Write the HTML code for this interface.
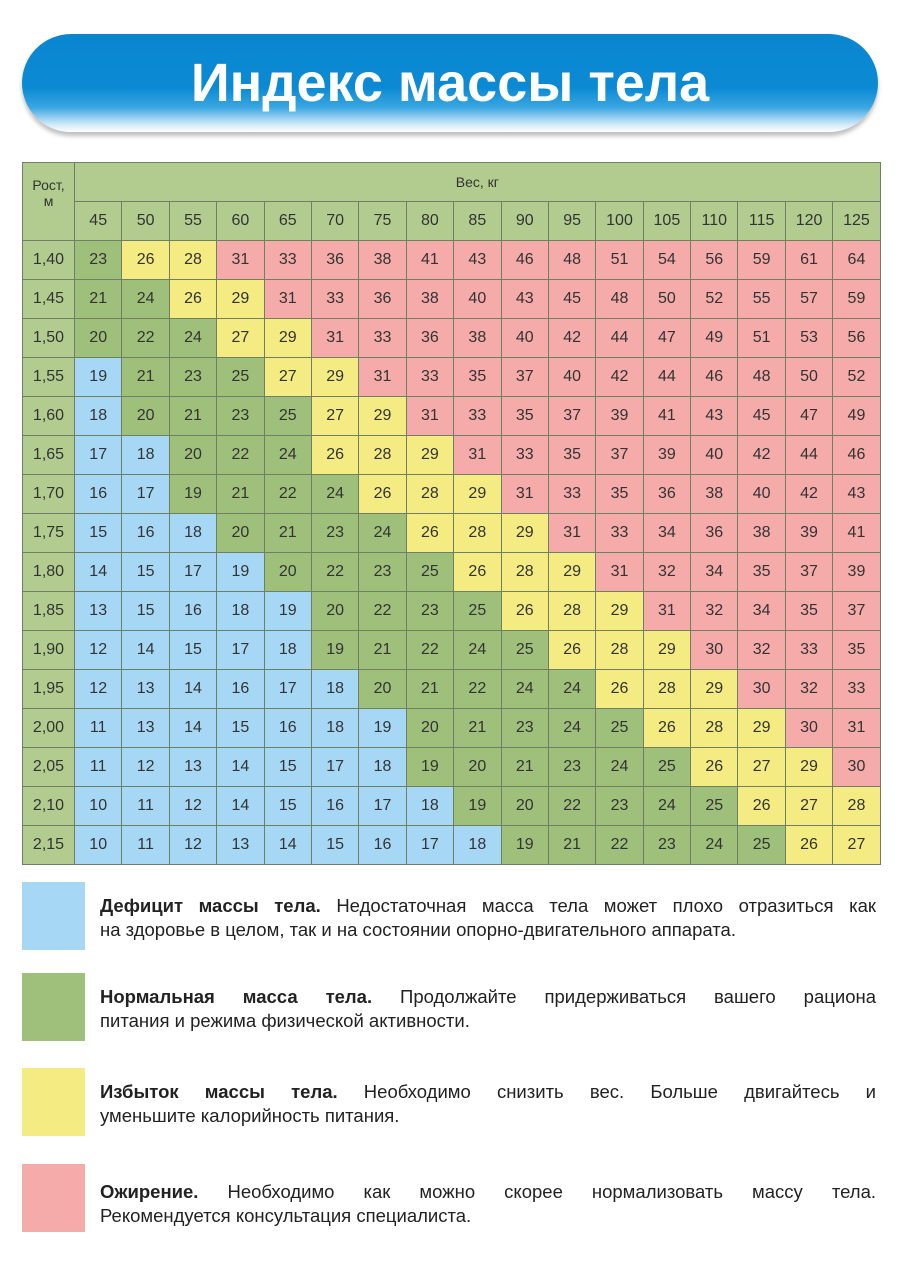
<!DOCTYPE html>
<html><head><meta charset="utf-8"><style>
body{margin:0;width:900px;height:1273px;background:#fff;position:relative;font-family:"Liberation Sans",sans-serif;overflow:hidden}
.banner{position:absolute;left:22px;top:34px;width:856px;height:98px;border-radius:50px;background:linear-gradient(#0a86cf 0%,#0b8ad3 55%,#3aa6e2 75%,#cfe9f8 92%,#fff 100%);box-shadow:0 4px 4px rgba(0,0,0,0.25)}
.banner div{position:absolute;left:0;right:0;top:18px;text-align:center;color:#fff;font-weight:bold;font-size:54px;letter-spacing:0px}
table{position:absolute;left:22px;top:162px;border-collapse:collapse;font-size:16px;color:#333}
td{border:1px solid #6f7f64;width:46.4px;height:38px;padding:0;text-align:center}
td.h{background:#b2cc8f}
td.r{width:51px;background:#b2cc8f}
.b{background:#a6d8f6}.g{background:#9fc07a}.y{background:#f5eb83}.p{background:#f4aba9}
.leg{position:absolute;left:22px;width:63px;height:68px}
.txt{position:absolute;left:100px;width:776px;font-size:18.5px;line-height:24px;color:#222}
.txt span{display:block;text-align:justify;text-align-last:justify;white-space:nowrap}
.txt span.l{text-align-last:left}
</style></head><body>
<div class="banner"><div>Индекс массы тела</div></div>
<table>
<tr><td class="r" rowspan="2" style="vertical-align:top;padding-top:14px;font-size:14px">Рост,<br>м</td><td class="h" colspan="17" style="font-size:14px">Вес, кг</td></tr>
<tr><td class="h">45</td><td class="h">50</td><td class="h">55</td><td class="h">60</td><td class="h">65</td><td class="h">70</td><td class="h">75</td><td class="h">80</td><td class="h">85</td><td class="h">90</td><td class="h">95</td><td class="h">100</td><td class="h">105</td><td class="h">110</td><td class="h">115</td><td class="h">120</td><td class="h">125</td></tr>
<tr><td class="r">1,40</td><td class="g">23</td><td class="y">26</td><td class="y">28</td><td class="p">31</td><td class="p">33</td><td class="p">36</td><td class="p">38</td><td class="p">41</td><td class="p">43</td><td class="p">46</td><td class="p">48</td><td class="p">51</td><td class="p">54</td><td class="p">56</td><td class="p">59</td><td class="p">61</td><td class="p">64</td></tr>
<tr><td class="r">1,45</td><td class="g">21</td><td class="g">24</td><td class="y">26</td><td class="y">29</td><td class="p">31</td><td class="p">33</td><td class="p">36</td><td class="p">38</td><td class="p">40</td><td class="p">43</td><td class="p">45</td><td class="p">48</td><td class="p">50</td><td class="p">52</td><td class="p">55</td><td class="p">57</td><td class="p">59</td></tr>
<tr><td class="r">1,50</td><td class="g">20</td><td class="g">22</td><td class="g">24</td><td class="y">27</td><td class="y">29</td><td class="p">31</td><td class="p">33</td><td class="p">36</td><td class="p">38</td><td class="p">40</td><td class="p">42</td><td class="p">44</td><td class="p">47</td><td class="p">49</td><td class="p">51</td><td class="p">53</td><td class="p">56</td></tr>
<tr><td class="r">1,55</td><td class="b">19</td><td class="g">21</td><td class="g">23</td><td class="g">25</td><td class="y">27</td><td class="y">29</td><td class="p">31</td><td class="p">33</td><td class="p">35</td><td class="p">37</td><td class="p">40</td><td class="p">42</td><td class="p">44</td><td class="p">46</td><td class="p">48</td><td class="p">50</td><td class="p">52</td></tr>
<tr><td class="r">1,60</td><td class="b">18</td><td class="g">20</td><td class="g">21</td><td class="g">23</td><td class="g">25</td><td class="y">27</td><td class="y">29</td><td class="p">31</td><td class="p">33</td><td class="p">35</td><td class="p">37</td><td class="p">39</td><td class="p">41</td><td class="p">43</td><td class="p">45</td><td class="p">47</td><td class="p">49</td></tr>
<tr><td class="r">1,65</td><td class="b">17</td><td class="b">18</td><td class="g">20</td><td class="g">22</td><td class="g">24</td><td class="y">26</td><td class="y">28</td><td class="y">29</td><td class="p">31</td><td class="p">33</td><td class="p">35</td><td class="p">37</td><td class="p">39</td><td class="p">40</td><td class="p">42</td><td class="p">44</td><td class="p">46</td></tr>
<tr><td class="r">1,70</td><td class="b">16</td><td class="b">17</td><td class="g">19</td><td class="g">21</td><td class="g">22</td><td class="g">24</td><td class="y">26</td><td class="y">28</td><td class="y">29</td><td class="p">31</td><td class="p">33</td><td class="p">35</td><td class="p">36</td><td class="p">38</td><td class="p">40</td><td class="p">42</td><td class="p">43</td></tr>
<tr><td class="r">1,75</td><td class="b">15</td><td class="b">16</td><td class="b">18</td><td class="g">20</td><td class="g">21</td><td class="g">23</td><td class="g">24</td><td class="y">26</td><td class="y">28</td><td class="y">29</td><td class="p">31</td><td class="p">33</td><td class="p">34</td><td class="p">36</td><td class="p">38</td><td class="p">39</td><td class="p">41</td></tr>
<tr><td class="r">1,80</td><td class="b">14</td><td class="b">15</td><td class="b">17</td><td class="b">19</td><td class="g">20</td><td class="g">22</td><td class="g">23</td><td class="g">25</td><td class="y">26</td><td class="y">28</td><td class="y">29</td><td class="p">31</td><td class="p">32</td><td class="p">34</td><td class="p">35</td><td class="p">37</td><td class="p">39</td></tr>
<tr><td class="r">1,85</td><td class="b">13</td><td class="b">15</td><td class="b">16</td><td class="b">18</td><td class="b">19</td><td class="g">20</td><td class="g">22</td><td class="g">23</td><td class="g">25</td><td class="y">26</td><td class="y">28</td><td class="y">29</td><td class="p">31</td><td class="p">32</td><td class="p">34</td><td class="p">35</td><td class="p">37</td></tr>
<tr><td class="r">1,90</td><td class="b">12</td><td class="b">14</td><td class="b">15</td><td class="b">17</td><td class="b">18</td><td class="g">19</td><td class="g">21</td><td class="g">22</td><td class="g">24</td><td class="g">25</td><td class="y">26</td><td class="y">28</td><td class="y">29</td><td class="p">30</td><td class="p">32</td><td class="p">33</td><td class="p">35</td></tr>
<tr><td class="r">1,95</td><td class="b">12</td><td class="b">13</td><td class="b">14</td><td class="b">16</td><td class="b">17</td><td class="b">18</td><td class="g">20</td><td class="g">21</td><td class="g">22</td><td class="g">24</td><td class="g">24</td><td class="y">26</td><td class="y">28</td><td class="y">29</td><td class="p">30</td><td class="p">32</td><td class="p">33</td></tr>
<tr><td class="r">2,00</td><td class="b">11</td><td class="b">13</td><td class="b">14</td><td class="b">15</td><td class="b">16</td><td class="b">18</td><td class="b">19</td><td class="g">20</td><td class="g">21</td><td class="g">23</td><td class="g">24</td><td class="g">25</td><td class="y">26</td><td class="y">28</td><td class="y">29</td><td class="p">30</td><td class="p">31</td></tr>
<tr><td class="r">2,05</td><td class="b">11</td><td class="b">12</td><td class="b">13</td><td class="b">14</td><td class="b">15</td><td class="b">17</td><td class="b">18</td><td class="g">19</td><td class="g">20</td><td class="g">21</td><td class="g">23</td><td class="g">24</td><td class="g">25</td><td class="y">26</td><td class="y">27</td><td class="y">29</td><td class="p">30</td></tr>
<tr><td class="r">2,10</td><td class="b">10</td><td class="b">11</td><td class="b">12</td><td class="b">14</td><td class="b">15</td><td class="b">16</td><td class="b">17</td><td class="b">18</td><td class="g">19</td><td class="g">20</td><td class="g">22</td><td class="g">23</td><td class="g">24</td><td class="g">25</td><td class="y">26</td><td class="y">27</td><td class="y">28</td></tr>
<tr><td class="r">2,15</td><td class="b">10</td><td class="b">11</td><td class="b">12</td><td class="b">13</td><td class="b">14</td><td class="b">15</td><td class="b">16</td><td class="b">17</td><td class="b">18</td><td class="g">19</td><td class="g">21</td><td class="g">22</td><td class="g">23</td><td class="g">24</td><td class="g">25</td><td class="y">26</td><td class="y">27</td></tr>
</table>
<div class="leg b" style="top:882px"></div>
<div class="leg g" style="top:973px"></div>
<div class="leg y" style="top:1068px"></div>
<div class="leg p" style="top:1164px"></div>
<div class="txt" style="top:894px"><span><b>Дефицит массы тела.</b> Недостаточная масса тела может плохо отразиться как</span><span class="l">на здоровье в целом, так и на состоянии опорно-двигательного аппарата.</span></div>
<div class="txt" style="top:985px"><span><b>Нормальная масса тела.</b> Продолжайте придерживаться вашего рациона</span><span class="l">питания и режима физической активности.</span></div>
<div class="txt" style="top:1080px"><span><b>Избыток массы тела.</b> Необходимо снизить вес. Больше двигайтесь и</span><span class="l">уменьшите калорийность питания.</span></div>
<div class="txt" style="top:1180px"><span><b>Ожирение.</b> Необходимо как можно скорее нормализовать массу тела.</span><span class="l">Рекомендуется консультация специалиста.</span></div>
</body></html>
